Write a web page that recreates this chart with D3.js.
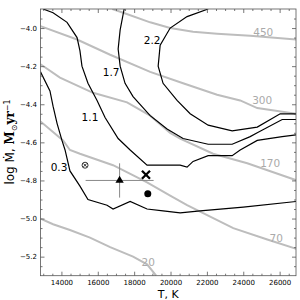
<!DOCTYPE html>
<html>
<head>
<meta charset="utf-8">
<script src="https://cdn.jsdelivr.net/npm/d3@7"></script>
<style>
  body { margin: 0; background: #fff; }
  svg { font-family: "DejaVu Sans", sans-serif; }
</style>
</head>
<body>
<div id="chart"></div>
<script>
// contour levels of the black lines, and the gray iso-lines
var blackLevels = ["2.2", "1.7", "1.1", "0.3"];
var grayLevels = ["450", "300", "170", "70", "20"];

// black contours, [T, log Mdot]
var line22 = [[22070,-3.90],[20910,-3.94],[19980,-4.00],[19430,-4.09],[19320,-4.20],[19590,-4.29],[20360,-4.38],[21080,-4.45],[22070,-4.51],[23390,-4.54],[24770,-4.52],[26030,-4.45],[26950,-4.45]];
var line17 = [[17450,-3.90],[17230,-4.01],[17120,-4.11],[17230,-4.20],[17500,-4.29],[17940,-4.36],[18880,-4.46],[19810,-4.53],[20690,-4.58],[22070,-4.61],[23390,-4.61],[24380,-4.57],[24770,-4.55],[26140,-4.48],[26950,-4.48]];
var line11 = [[12990,-3.90],[13540,-3.92],[14310,-3.97],[14860,-4.05],[15020,-4.12],[15130,-4.20],[15460,-4.29],[15960,-4.38],[16400,-4.47],[17120,-4.58],[17780,-4.64],[18710,-4.72],[20530,-4.72],[20910,-4.73],[21240,-4.70],[22070,-4.67],[23390,-4.67],[23830,-4.64],[24770,-4.59],[26140,-4.57],[26950,-4.56]];
var line03 = [[12850,-4.23],[13370,-4.33],[13540,-4.41],[13760,-4.50],[14030,-4.59],[14200,-4.64],[14470,-4.75],[15020,-4.83],[15460,-4.90],[16510,-4.93],[16840,-4.95],[17780,-4.91],[18710,-4.95],[19590,-4.96],[20530,-4.97],[21630,-4.96],[24000,-4.94],[26950,-4.91]];

// gray iso-lines
var gray450 = [[16800,-3.90],[17400,-3.92],[18880,-3.97],[19980,-4.00],[21240,-4.02],[22560,-4.03],[24380,-4.04],[26950,-4.06]];
var gray300 = [[12850,-3.99],[14860,-4.06],[16680,-4.14],[18880,-4.23],[20690,-4.29],[22560,-4.35],[23830,-4.38],[24770,-4.42],[26950,-4.45]];
var gray170 = [[12850,-4.19],[13920,-4.26],[15740,-4.34],[17610,-4.39],[18880,-4.46],[19980,-4.55],[20530,-4.58],[22340,-4.66],[24220,-4.71],[26950,-4.80]];
var gray70 = [[12850,-4.49],[14090,-4.59],[14470,-4.64],[15020,-4.66],[16840,-4.72],[18710,-4.81],[19980,-4.88],[20910,-4.93],[23450,-5.05],[25320,-5.11],[26950,-5.16]];
var gray20 = [[12850,-5.00],[13540,-5.03],[14470,-5.06],[15570,-5.10],[16680,-5.15],[17940,-5.20],[18710,-5.24],[19210,-5.30]];

// where the level labels sit
var blackLabelPos = [[18990,-4.063],[16730,-4.231],[15570,-4.467],[13870,-4.729]];
var grayLabelPos = [[25100,-4.021],[25040,-4.378],[25480,-4.708],[25810,-5.102],[18770,-5.228]];

// observed points
var markT = [15300, 17200, 18650, 18750];
var markM = [-4.72, -4.80, -4.77, -4.87];
var markType = ["otimes", "triangle", "cross", "dot"];
var errT = [0, 1870, 0, 0];
var errM = [0, 0.09, 0, 0];

// ticks
var xTicks = [14000, 16000, 18000, 20000, 22000, 24000, 26000];
var yTicks = [-5.2, -5.0, -4.8, -4.6, -4.4, -4.2, -4.0];

var margin = {left: 40.5, top: 9, right: 4, bottom: 24.3};
var width = 300 - margin.left - margin.right,
    height = 300 - margin.top - margin.bottom;

var svg = d3.select("#chart")
  .append("svg")
  .attr("width", 300)
  .attr("height", 300);

var g = svg.append("g")
  .attr("transform", "translate(" + margin.left + "," + margin.top + ")");

var x = d3.scaleLinear().domain([12850, 26900]).range([0, width]);
var y = d3.scaleLinear().domain([-5.3, -3.9]).range([height, 0]);

g.append("clipPath").attr("id", "plotclip")
  .append("rect").attr("width", width).attr("height", height);

var line = d3.line()
  .x(function(d) { return x(d[0]); })
  .y(function(d) { return y(d[1]); });

var plot = g.append("g").attr("clip-path", "url(#plotclip)");

// gray lines first so black sits on top
plot.selectAll("path.gray")
  .data([gray450, gray300, gray170, gray70, gray20])
  .enter()
  .append("path")
  .attr("class", "gray")
  .attr("d", line)
  .style("fill", "none")
  .style("stroke", "#bdbdbd")
  .style("stroke-width", 2);

plot.selectAll("path.black")
  .data([line22, line17, line11, line03])
  .enter()
  .append("path")
  .attr("class", "black")
  .attr("d", line)
  .style("fill", "none")
  .style("stroke", "#000")
  .style("stroke-width", 1.2);

plot.selectAll("text.glabel")
  .data(grayLevels)
  .enter()
  .append("text")
  .attr("class", "glabel")
  .attr("x", function(d, i) { return x(grayLabelPos[i][0]); })
  .attr("y", function(d, i) { return y(grayLabelPos[i][1]); })
  .attr("dy", "0.35em")
  .attr("text-anchor", "middle")
  .style("font-size", "10.5px")
  .style("fill", "#aaaaaa")
  .text(function(d) { return d; });

plot.selectAll("text.blabel")
  .data(blackLevels)
  .enter()
  .append("text")
  .attr("class", "blabel")
  .attr("x", function(d, i) { return x(blackLabelPos[i][0]); })
  .attr("y", function(d, i) { return y(blackLabelPos[i][1]); })
  .attr("dy", "0.35em")
  .attr("text-anchor", "middle")
  .style("font-size", "10.5px")
  .style("fill", "#000")
  .text(function(d) { return d; });

// error bars
markT.forEach(function(t, i) {
  if (errT[i] > 0) {
    plot.append("line")
      .attr("x1", x(t - errT[i])).attr("x2", x(t + errT[i]))
      .attr("y1", y(markM[i])).attr("y2", y(markM[i]))
      .style("stroke", "#888").style("stroke-width", 1);
  }
  if (errM[i] > 0) {
    plot.append("line")
      .attr("x1", x(t)).attr("x2", x(t))
      .attr("y1", y(markM[i] - errM[i])).attr("y2", y(markM[i] + errM[i]))
      .style("stroke", "#888").style("stroke-width", 1);
  }
});

var marks = plot.selectAll("g.mark")
  .data(markType)
  .enter()
  .append("g")
  .attr("class", "mark")
  .attr("transform", function(d, i) {
    return "translate(" + x(markT[i]) + "," + y(markM[i]) + ")";
  });

marks.each(function(d) {
  var m = d3.select(this);
  if (d == "otimes") {
    m.append("circle").attr("r", 3).style("fill", "#fff").style("stroke", "#000").style("stroke-width", 0.8);
    m.append("path").attr("d", d3.symbol(d3.symbolTimes, 9))
      .style("stroke", "#000").style("stroke-width", 0.8).style("fill", "none");
  } else if (d == "triangle") {
    m.append("path").attr("d", d3.symbol(d3.symbolTriangle, 30)).style("fill", "#000");
  } else if (d == "cross") {
    m.append("path").attr("d", d3.symbol(d3.symbolTimes, 44))
      .style("stroke", "#000").style("stroke-width", 2.3).style("fill", "none");
  } else {
    m.append("circle").attr("r", 3.5).style("fill", "#000");
  }
});

// axes, ticks pointing inwards on all sides
var minorX = d3.range(13000, 26900, 500).filter(function(v) { return v % 2000 != 0; });
var minorY = d3.range(-5.25, -3.9, 0.05).filter(function(v) {
  return Math.abs(Math.round(v * 5) - v * 5) > 0.01;
});

function styleAxis(sel) {
  sel.select(".domain").remove();
  sel.selectAll("line").style("stroke", "#555").style("stroke-width", 0.8);
  sel.selectAll("text").style("font-size", "7px").style("font-family", "DejaVu Sans").style("fill", "#000");
}

g.append("g").attr("transform", "translate(0," + height + ")")
  .call(d3.axisBottom(x).tickValues(xTicks).tickSizeInner(-4).tickSizeOuter(0).tickPadding(4).tickFormat(d3.format("d")))
  .call(styleAxis);
g.append("g").attr("transform", "translate(0," + height + ")")
  .call(d3.axisBottom(x).tickValues(minorX).tickSizeInner(-2).tickSizeOuter(0).tickFormat(""))
  .call(styleAxis);
g.append("g")
  .call(d3.axisTop(x).tickValues(xTicks).tickSizeInner(-4).tickSizeOuter(0).tickFormat(""))
  .call(styleAxis);
g.append("g")
  .call(d3.axisTop(x).tickValues(minorX).tickSizeInner(-2).tickSizeOuter(0).tickFormat(""))
  .call(styleAxis);

g.append("g")
  .call(d3.axisLeft(y).tickValues(yTicks).tickSizeInner(-4).tickSizeOuter(0).tickPadding(3.5).tickFormat(d3.format(".1f")))
  .call(styleAxis);
g.append("g")
  .call(d3.axisLeft(y).tickValues(minorY).tickSizeInner(-2).tickSizeOuter(0).tickFormat(""))
  .call(styleAxis);
g.append("g").attr("transform", "translate(" + width + ",0)")
  .call(d3.axisRight(y).tickValues(yTicks).tickSizeInner(-4).tickSizeOuter(0).tickFormat(""))
  .call(styleAxis);
g.append("g").attr("transform", "translate(" + width + ",0)")
  .call(d3.axisRight(y).tickValues(minorY).tickSizeInner(-2).tickSizeOuter(0).tickFormat(""))
  .call(styleAxis);

g.append("rect")
  .attr("width", width)
  .attr("height", height)
  .style("fill", "none")
  .style("stroke", "#555")
  .style("stroke-width", 0.8);

// axis titles
svg.append("text")
  .attr("x", margin.left + width / 2)
  .attr("y", 297.5)
  .attr("text-anchor", "middle")
  .style("font-size", "11px")
  .text("T, K");

var ylab = svg.append("text")
  .attr("transform", "translate(14,142) rotate(-90)")
  .attr("text-anchor", "middle")
  .style("font-size", "12px");
ylab.append("tspan").text("log \u1E40, ");
ylab.append("tspan").style("font-family", "DejaVu Serif").style("font-weight", "bold").text("M");
ylab.append("tspan").attr("dy", 2.5).style("font-size", "8px").text("\u2299");
ylab.append("tspan").attr("dy", -2.5).style("font-family", "DejaVu Serif").style("font-weight", "bold").text("yr");
ylab.append("tspan").attr("dy", -4.5).style("font-size", "8px").text("\u22121");
</script>
</body>
</html>
